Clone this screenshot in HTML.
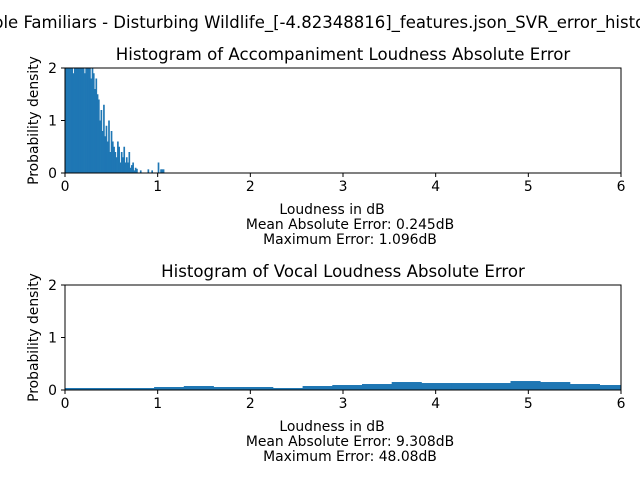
<!DOCTYPE html>
<html><head><meta charset="utf-8"><style>
body{margin:0;background:#fff}
svg text{font-family:"DejaVu Sans","Liberation Sans",sans-serif;fill:#000}
</style></head><body>
<svg id="c" width="640" height="480" xmlns="http://www.w3.org/2000/svg">
<text x="-7" y="28" font-size="16.5">ble Familiars - Disturbing Wildlife_[-4.82348816]_features.json_SVR_error_histogram</text>
<g id="g1"></g><g id="g2"></g>
</svg>
<script>
const xTicks=[0,1,2,3,4,5,6];
const yTicks=[0,1,2];
const accBinWidth=0.0137;
const accValues=[2.4,2.2,2.6,2.0,2.5,2.3,1.9,2.4,2.2,2.0,2.6,2.1,2.3,2.0,2.2,1.9,2.4,2.1,2.0,2.2,1.8,2.3,1.9,1.6,1.8,1.5,1.4,1.0,1.2,0.8,1.3,0.7,0.9,0.6,1.0,0.4,0.8,0.6,0.5,0.4,0.3,0.6,0.5,0.2,0.4,0.3,0.5,0.2,0.3,0.2,0.4,0.1,0.15,0.2,0.05,0.1,0.08,0,0,0.05,0,0,0,0,0,0.07,0,0,0.05,0,0,0,0,0.2,0,0.07,0.07,0.07,0,0];
const vocBinWidth=0.3205;
const vocValues=[0.038,0.038,0.038,0.057,0.076,0.057,0.057,0.038,0.076,0.095,0.114,0.152,0.133,0.133,0.133,0.171,0.152,0.114,0.095];
function panel(gid,top,title,vals,bw,l1,l2){
  const g=document.getElementById(gid);
  const L=65,R=621,T=top,B=top+105;
  const xs=v=>L+(R-L)*v/6, ys=v=>B-(B-T)*Math.min(v,2)/2;
  let h='';
  vals.forEach((v,i)=>{ if(v<=0) return;
    const x0=xs(i*bw), x1=Math.min(xs((i+1)*bw)+0.4,R);
    h+=`<rect x="${x0}" y="${ys(v)}" width="${Math.max(x1-x0,0.8)}" height="${B-ys(v)}" fill="#1f77b4"/>`;});
  h+=`<rect x="${L}" y="${T}" width="${R-L}" height="${B-T}" fill="none" stroke="#000" stroke-width="1"/>`;
  xTicks.forEach(t=>{h+=`<line x1="${xs(t)}" x2="${xs(t)}" y1="${B}" y2="${B+4}" stroke="#000"/><text x="${xs(t)}" y="${B+18}" font-size="13.9" text-anchor="middle">${t}</text>`;});
  yTicks.forEach(t=>{h+=`<line x1="${L-4}" x2="${L}" y1="${ys(t)}" y2="${ys(t)}" stroke="#000"/><text x="${L-8}" y="${ys(t)+5}" font-size="13.9" text-anchor="end">${t}</text>`;});
  h+=`<text x="${(L+R)/2}" y="${T-8}" font-size="16.6" text-anchor="middle">${title}</text>`;
  h+=`<text transform="translate(38,${(T+B)/2}) rotate(-90)" font-size="13.9" text-anchor="middle">Probability density</text>`;
  h+=`<text x="${(L+R)/2-11}" y="${B+41}" font-size="13.9" text-anchor="middle">Loudness in dB</text>`;
  h+=`<text x="${(L+R)/2+7}" y="${B+56}" font-size="13.9" text-anchor="middle">${l1}</text>`;
  h+=`<text x="${(L+R)/2+7}" y="${B+71}" font-size="13.9" text-anchor="middle">${l2}</text>`;
  g.innerHTML=h;
}
panel('g1',68,'Histogram of Accompaniment Loudness Absolute Error',accValues,accBinWidth,'Mean Absolute Error: 0.245dB','Maximum Error: 1.096dB');
panel('g2',285,'Histogram of Vocal Loudness Absolute Error',vocValues,vocBinWidth,'Mean Absolute Error: 9.308dB','Maximum Error: 48.08dB');
</script>
</body></html>
